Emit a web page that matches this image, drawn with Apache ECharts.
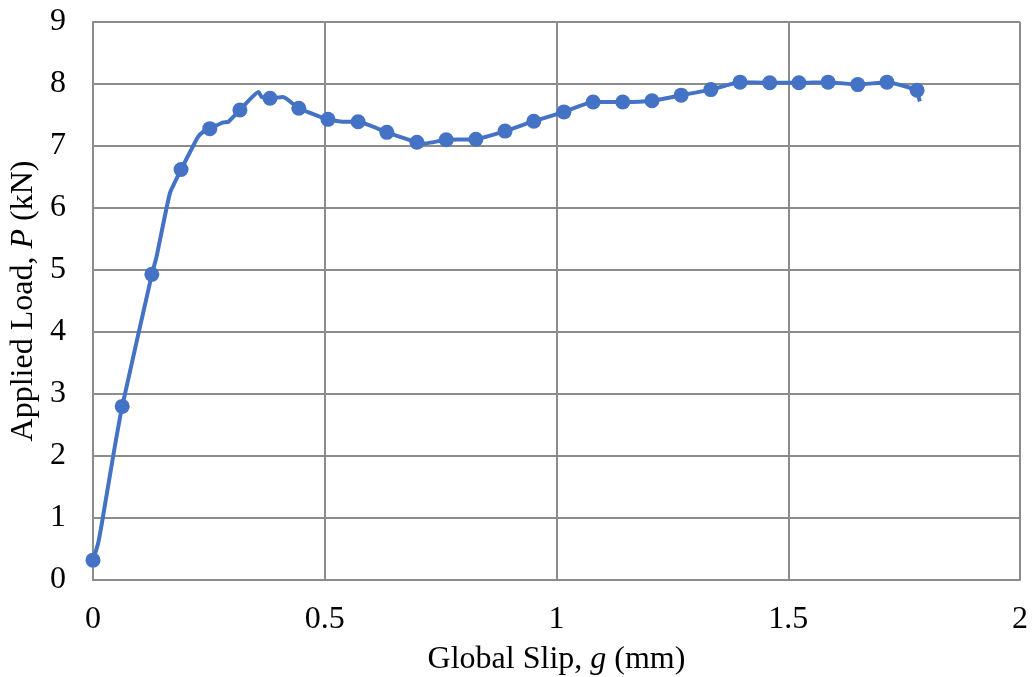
<!DOCTYPE html>
<html>
<head>
<meta charset="utf-8">
<script src="https://cdn.jsdelivr.net/npm/echarts@6/dist/echarts.min.js"></script>
<style>
html,body{margin:0;padding:0;background:#fff;}
#chart{width:1034px;height:677px;}
</style>
</head>
<body>
<div id="chart"></div>
<script>
// Marker points
var markerX = [0, 0.063, 0.127, 0.19, 0.252, 0.317, 0.382, 0.444, 0.507, 0.572, 0.634, 0.699, 0.762, 0.826, 0.889, 0.951, 1.016, 1.079, 1.143, 1.206, 1.269, 1.333, 1.396, 1.46, 1.523, 1.586, 1.65, 1.713, 1.778];
var markerY = [0.32, 2.8, 4.93, 6.62, 7.28, 7.58, 7.77, 7.61, 7.43, 7.39, 7.22, 7.06, 7.10, 7.11, 7.24, 7.40, 7.55, 7.71, 7.71, 7.73, 7.82, 7.91, 8.03, 8.02, 8.02, 8.03, 7.99, 8.03, 7.90];
// Additional points of the measured curve between markers
var curveX = [0.011, 0.019, 0.044, 0.137, 0.166, 0.216, 0.227, 0.238, 0.281, 0.292, 0.357, 0.364, 0.41, 0.54, 0.716, 1.781, 1.784];
var curveY = [0.59, 0.91, 2.02, 5.21, 6.24, 7.00, 7.15, 7.23, 7.38, 7.39, 7.87, 7.79, 7.79, 7.39, 7.04, 7.80, 7.72];

var xTicks = {min: 0, max: 2, interval: 0.5};
var yTicks = {min: 0, max: 9, interval: 1};

var markers = markerX.map(function (x, i) { return [x, markerY[i]]; });
var curve = markers.concat(curveX.map(function (x, i) { return [x, curveY[i]]; }))
  .sort(function (a, b) { return a[0] - b[0]; });

var gridColor = '#8c8c8c';
var font = '"Liberation Serif", "Times New Roman", serif';
var chart = echarts.init(document.getElementById('chart'));
chart.setOption({
  animation: false,
  grid: {left: 93, right: 14, top: 22, bottom: 97, containLabel: false, outerBoundsMode: 'none'},
  xAxis: {
    type: 'value', min: xTicks.min, max: xTicks.max, interval: xTicks.interval,
    name: 'Global Slip, {i|g} (mm)', nameLocation: 'middle', nameGap: 64,
    nameTextStyle: {fontFamily: font, fontSize: 32, color: '#000', rich: {i: {fontFamily: font, fontSize: 32, fontStyle: 'italic', color: '#000'}}},
    axisLine: {show: true, lineStyle: {color: gridColor, width: 2}},
    axisTick: {show: false},
    axisLabel: {fontFamily: font, fontSize: 32, color: '#000', margin: 24},
    splitLine: {show: true, lineStyle: {color: gridColor, width: 2}}
  },
  yAxis: {
    type: 'value', min: yTicks.min, max: yTicks.max, interval: yTicks.interval,
    name: 'Applied Load, {i|P} (kN)', nameLocation: 'middle', nameGap: 51, nameRotate: 90,
    nameTextStyle: {fontFamily: font, fontSize: 32, color: '#000', rich: {i: {fontFamily: font, fontSize: 32, fontStyle: 'italic', color: '#000'}}},
    axisLine: {show: true, lineStyle: {color: gridColor, width: 2}},
    axisTick: {show: false},
    axisLabel: {fontFamily: font, fontSize: 32, color: '#000', margin: 27},
    splitLine: {show: true, lineStyle: {color: gridColor, width: 2}}
  },
  series: [
    {type: 'line', data: curve, showSymbol: false, smooth: 0.15,
     lineStyle: {color: '#4472C4', width: 4}, z: 2},
    {type: 'scatter', data: markers, symbol: 'circle', symbolSize: 15,
     itemStyle: {color: '#4472C4', opacity: 1}, z: 3}
  ]
});
</script>
</body>
</html>
